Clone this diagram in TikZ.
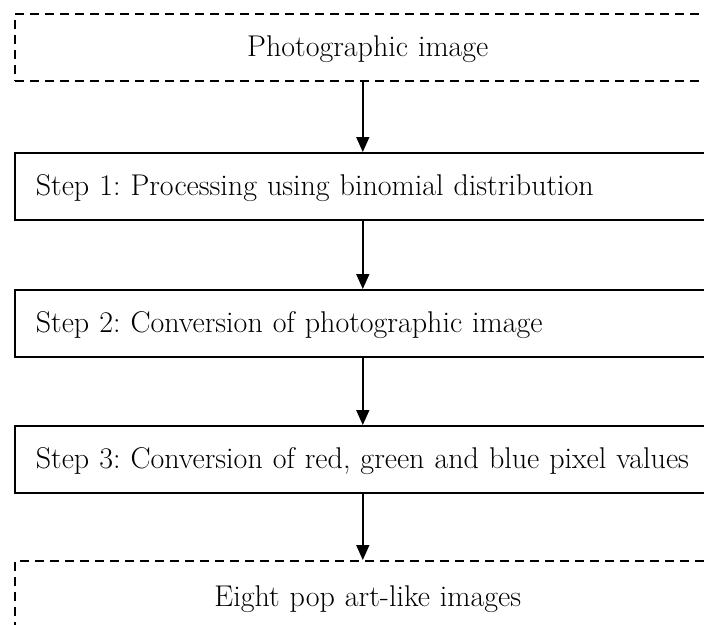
\documentclass[tikz,border=0pt]{standalone}
\usetikzlibrary{arrows.meta}
\begin{document}
\frenchspacing
\begin{tikzpicture}[x=1pt,y=-1pt,
  every node/.style={font=\fontsize{30}{34}\selectfont},
  flowbox/.style={draw, line width=1.6pt, rectangle, anchor=north west,
    minimum width=706pt, minimum height=67pt, inner sep=0pt,
    text height=22pt, text depth=3pt},
  ioboxd/.style={flowbox, dashed, dash pattern=on 9pt off 6pt, text width=706pt, align=center},
  stepbox/.style={flowbox, text width=664pt, align=left},
  flowarrow/.style={line width=1.6pt, -{Triangle[length=15pt,width=13pt]}}
]
\useasboundingbox (0,0) rectangle (704,624);
\clip (0,0) rectangle (704,624);
\fill[white] (0,0) rectangle (704,624);
\node[ioboxd] (in) at (14,13) {Photographic image};
\node[stepbox] (s1) at (14,152) {Step 1: Processing using binomial distribution};
\node[stepbox] (s2) at (14,289) {Step 2: Conversion of photographic image};
\node[stepbox] (s3) at (14,425) {Step 3: Conversion of red, green and blue pixel values};
\node[ioboxd, minimum height=72pt] (out) at (14,560) {Eight pop art-like images};
\draw[flowarrow] ([xshift=-5pt]in.south) -- ([xshift=-5pt]s1.north);
\draw[flowarrow] ([xshift=-5pt]s1.south) -- ([xshift=-5pt]s2.north);
\draw[flowarrow] ([xshift=-5pt]s2.south) -- ([xshift=-5pt]s3.north);
\draw[flowarrow] ([xshift=-5pt]s3.south) -- ([xshift=-5pt]out.north);
\end{tikzpicture}
\end{document}
